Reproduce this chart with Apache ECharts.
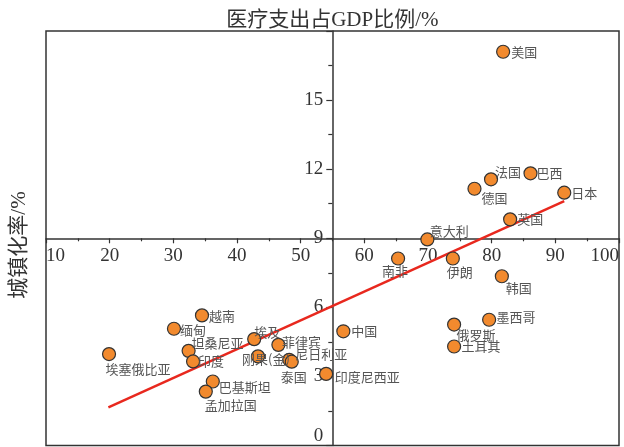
<!DOCTYPE html>
<html>
<head>
<meta charset="utf-8">
<script src="https://cdn.jsdelivr.net/npm/echarts@6/dist/echarts.min.js"></script>
<style>
  html, body { margin: 0; padding: 0; background: #fff; }
  #chart { width: 624px; height: 447px; }
</style>
</head>
<body>
<div id="chart"></div>
<script>
// Countries: urbanization rate (%) vs. health expenditure share of GDP (%)
const countries = ['美国', '法国', '巴西', '德国', '日本', '英国', '意大利', '南非', '伊朗', '韩国',
  '墨西哥', '俄罗斯', '土耳其', '中国', '印度尼西亚', '越南', '缅甸', '埃塞俄比亚', '坦桑尼亚', '印度',
  '埃及', '菲律宾', '刚果(金)', '尼日利亚', '泰国', '巴基斯坦', '孟加拉国'];
const urbanization = [81.8, 79.9, 86.1, 77.3, 91.4, 82.9, 69.9, 65.3, 73.9, 81.6,
  79.6, 74.1, 74.1, 56.7, 54.0, 34.5, 30.1, 19.9, 32.4, 33.1,
  42.7, 46.5, 43.3, 48.2, 48.6, 36.2, 35.1];
const healthShare = [17.1, 11.56, 11.82, 11.15, 10.98, 9.82, 8.95, 8.12, 8.12, 7.35,
  5.46, 5.25, 4.30, 4.96, 3.11, 5.65, 5.07, 3.97, 4.11, 3.65,
  4.62, 4.37, 3.87, 3.72, 3.64, 2.78, 2.34];

// Fitted trend line end points [urbanization, health share]
const trendX = [19.8, 91.4];
const trendY = [1.66, 10.61];

// Axis ticks
const xTicks = { min: 10, max: 100, step: 10 };
const yTicks = { min: 0, max: 18, step: 3 };

// Where each country's label sits relative to its marker (px)
const labelOffset = {
  '美国': [21, 0], '法国': [17, -7], '巴西': [19, 0], '德国': [20, 9], '日本': [20, 0],
  '英国': [20, 0], '意大利': [22, -8], '南非': [-3, 13], '伊朗': [7, 14], '韩国': [17, 12],
  '墨西哥': [27, -3], '俄罗斯': [22, 10], '土耳其': [27, 0], '中国': [21, 0], '印度尼西亚': [41, 3],
  '越南': [20, 1], '缅甸': [19, 1], '埃塞俄比亚': [29, 15], '坦桑尼亚': [29, -8], '印度': [18, 0],
  '埃及': [13, -7], '菲律宾': [23, -3], '刚果(金)': [8, 3], '尼日利亚': [32, -6], '泰国': [2, 15],
  '巴基斯坦': [32, 6], '孟加拉国': [25, 13]
};

const serif = '"Liberation Serif", "Noto Sans CJK SC", serif';
const cjk = '"Noto Sans CJK SC", sans-serif';

const points = countries.map((name, i) => ({
  name: name,
  value: [urbanization[i], healthShare[i]],
  label: { offset: labelOffset[name] || [20, 0] }
}));

const chart = echarts.init(document.getElementById('chart'), null, { renderer: 'canvas' });

chart.setOption({
  animation: false,
  backgroundColor: '#ffffff',
  grid: {
    left: 46, right: 5, top: 31, bottom: 1.5,
    show: true, borderColor: '#333', borderWidth: 1.5, backgroundColor: 'transparent'
  },
  graphic: [{
    type: 'text',
    x: 19, y: 245,
    rotation: Math.PI / 2,
    style: {
      text: '城镇化率/%',
      font: '21px ' + serif,
      fill: '#333',
      align: 'center',
      verticalAlign: 'middle'
    }
  }],
  xAxis: {
    type: 'value',
    min: xTicks.min, max: xTicks.max, interval: xTicks.step,
    position: 'bottom',
    offset: -207.2,
    axisLine: { show: true, onZero: false, lineStyle: { color: '#333', width: 1.5 } },
    axisTick: { show: true, length: 5, lineStyle: { color: '#333', width: 1.2 } },
    minorTick: { show: true, splitNumber: 2, length: 3, lineStyle: { color: '#333', width: 1.2 } },
    splitLine: { show: false },
    axisLabel: {
      margin: 8,
      color: '#333',
      fontFamily: serif,
      fontSize: 19,
      alignMinLabel: 'left',
      alignMaxLabel: 'right'
    }
  },
  yAxis: {
    type: 'value',
    min: yTicks.min, max: yTicks.max, interval: yTicks.step,
    position: 'left',
    offset: -286.3,
    name: '医疗支出占GDP比例/%',
    nameLocation: 'end',
    nameGap: 11,
    nameTextStyle: {
      color: '#333', fontFamily: serif, fontSize: 21,
      align: 'center', verticalAlign: 'middle'
    },
    axisLine: { show: true, onZero: false, lineStyle: { color: '#333', width: 1.5 } },
    axisTick: { show: true, length: 6, lineStyle: { color: '#333', width: 1.2 } },
    minorTick: { show: true, splitNumber: 2, length: 4, lineStyle: { color: '#333', width: 1.2 } },
    splitLine: { show: false },
    axisLabel: {
      margin: 9,
      color: '#333',
      fontFamily: serif,
      fontSize: 19,
      showMaxLabel: false,
      verticalAlignMinLabel: 'bottom'
    }
  },
  series: [
    {
      type: 'line',
      data: trendX.map((x, i) => [x, trendY[i]]),
      showSymbol: false,
      lineStyle: { color: '#E8281E', width: 2.5 },
      z: 3,
      silent: true
    },
    {
      type: 'scatter',
      data: points,
      symbol: 'circle',
      symbolSize: 13,
      itemStyle: { color: '#F28A2E', borderColor: '#333', borderWidth: 1.2, opacity: 1 },
      label: {
        show: true,
        position: 'inside',
        formatter: '{b}',
        color: '#555',
        fontFamily: cjk,
        fontSize: 13,
        align: 'center',
        verticalAlign: 'middle'
      },
      z: 4
    }
  ]
});
</script>
</body>
</html>
